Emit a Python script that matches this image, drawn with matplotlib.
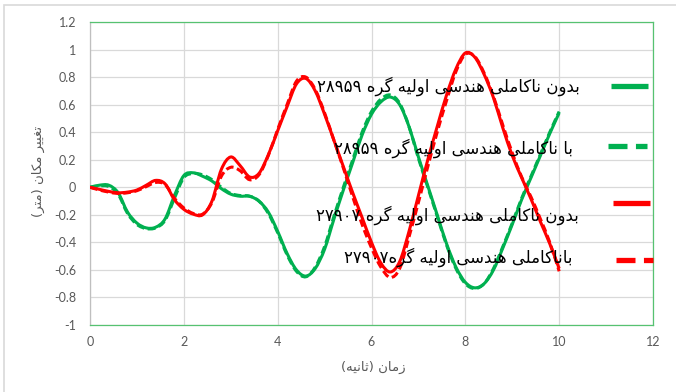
import re
import matplotlib
matplotlib.use('Agg')
import matplotlib.pyplot as plt
from matplotlib.lines import Line2D
from matplotlib.patches import Rectangle, PathPatch
from matplotlib.path import Path

# time axis (s)
t = [0.0, 0.2, 0.4, 0.6, 0.8, 1.0, 1.2, 1.4, 1.6, 1.8,
     2.0, 2.2, 2.4, 2.6, 2.8, 3.0, 3.2, 3.4, 3.6, 3.8,
     4.0, 4.2, 4.4, 4.6, 4.8, 5.0, 5.2, 5.4, 5.6, 5.8,
     6.0, 6.2, 6.4, 6.6, 6.8, 7.0, 7.2, 7.4, 7.6, 7.8,
     8.0, 8.2, 8.4, 8.6, 8.8, 9.0, 9.2, 9.4, 9.6, 9.8, 10.0]

# node 28959, perfect geometry
g_perfect = [0.0, 0.015, 0.015, -0.04, -0.18, -0.26, -0.295, -0.29, -0.23, -0.06,
             0.085, 0.105, 0.08, 0.045, -0.01, -0.05, -0.065, -0.065, -0.10, -0.18,
             -0.32, -0.48, -0.60, -0.645, -0.59, -0.45, -0.23, -0.02, 0.18, 0.38,
             0.53, 0.62, 0.655, 0.60, 0.44, 0.22, 0.01, -0.20, -0.41, -0.58,
             -0.69, -0.73, -0.70, -0.60, -0.44, -0.27, -0.09, 0.07, 0.23, 0.39, 0.54]
# node 28959, with initial imperfection
g_imperf = [0.0, 0.01, 0.005, -0.05, -0.19, -0.27, -0.30, -0.295, -0.24, -0.08,
            0.07, 0.10, 0.09, 0.055, 0.0, -0.045, -0.06, -0.065, -0.10, -0.19,
            -0.33, -0.49, -0.61, -0.65, -0.58, -0.43, -0.21, 0.0, 0.20, 0.40,
            0.55, 0.64, 0.67, 0.61, 0.44, 0.21, 0.0, -0.21, -0.42, -0.59,
            -0.70, -0.735, -0.70, -0.59, -0.43, -0.26, -0.08, 0.08, 0.24, 0.40, 0.55]
# node 27907, perfect geometry
r_perfect = [0.0, -0.015, -0.03, -0.04, -0.035, -0.02, 0.015, 0.05, 0.025, -0.09,
             -0.16, -0.195, -0.20, -0.10, 0.13, 0.22, 0.157, 0.075, 0.10, 0.235,
             0.41, 0.585, 0.75, 0.79, 0.70, 0.53, 0.34, 0.15, -0.04, -0.22,
             -0.40, -0.55, -0.615, -0.54, -0.32, -0.06, 0.20, 0.44, 0.67, 0.86,
             0.975, 0.945, 0.82, 0.65, 0.43, 0.23, 0.07, -0.085, -0.25, -0.41, -0.59]
# node 27907, with initial imperfection
r_imperf = [0.0, -0.02, -0.035, -0.045, -0.04, -0.025, 0.005, 0.035, 0.02, -0.08,
            -0.15, -0.19, -0.195, -0.11, 0.08, 0.145, 0.12, 0.055, 0.09, 0.23,
            0.42, 0.60, 0.77, 0.80, 0.71, 0.54, 0.34, 0.14, -0.07, -0.27,
            -0.44, -0.58, -0.655, -0.59, -0.36, -0.11, 0.15, 0.40, 0.63, 0.84,
            0.965, 0.95, 0.83, 0.66, 0.45, 0.25, 0.075, -0.07, -0.23, -0.40, -0.61]

labels = ['بدون ناکاملی هندسی اولیه گره ۲۸۹۵۹',
          'با ناکاملی هندسی اولیه گره ۲۸۹۵۹',
          'بدون ناکاملی هندسی اولیه گره ۲۷۹۰۷',
          'باناکاملی هندسی اولیه گره۲۷۹۰۷']
xlabel = 'زمان (ثانیه)'
ylabel = 'تغییر مکان (متر)'

GREEN = '#00B050'
RED = '#FF0000'

# contextual forms: isolated, final, initial, medial
FORMS = {
    'ا': ('\uFE8D', '\uFE8E', None, None),
    'ب': ('\uFE8F', '\uFE90', '\uFE91', '\uFE92'),
    'ت': ('\uFE95', '\uFE96', '\uFE97', '\uFE98'),
    'ث': ('\uFE99', '\uFE9A', '\uFE9B', '\uFE9C'),
    'د': ('\uFEA9', '\uFEAA', None, None),
    'ر': ('\uFEAD', '\uFEAE', None, None),
    'ز': ('\uFEAF', '\uFEB0', None, None),
    'س': ('\uFEB1', '\uFEB2', '\uFEB3', '\uFEB4'),
    'غ': ('\uFECD', '\uFECE', '\uFECF', '\uFED0'),
    'ل': ('\uFEDD', '\uFEDE', '\uFEDF', '\uFEE0'),
    'م': ('\uFEE1', '\uFEE2', '\uFEE3', '\uFEE4'),
    'ن': ('\uFEE5', '\uFEE6', '\uFEE7', '\uFEE8'),
    'ه': ('\uFEE9', '\uFEEA', '\uFEEB', '\uFEEC'),
    'و': ('\uFEED', '\uFEEE', None, None),
    'ک': ('\uFB8E', '\uFB8F', '\uFB90', '\uFB91'),
    'گ': ('\uFB92', '\uFB93', '\uFB94', '\uFB95'),
    'ی': ('\uFBFC', '\uFBFD', '\uFBFE', '\uFBFF'),
}


def shape(s):
    # pick joined letter forms, then lay the string out right to left
    out = []
    for i, c in enumerate(s):
        if c not in FORMS:
            out.append(c)
            continue
        iso, fin, ini, med = FORMS[c]
        prev = s[i - 1] if i > 0 else ''
        nxt = s[i + 1] if i + 1 < len(s) else ''
        jp = prev in FORMS and FORMS[prev][2] is not None
        jn = ini is not None and nxt in FORMS
        if jp and jn:
            out.append(med)
        elif jp:
            out.append(fin)
        elif jn:
            out.append(ini)
        else:
            out.append(iso)
    runs = re.findall(r'[0-9\u06F0-\u06F9]+|[^0-9\u06F0-\u06F9]', ''.join(out))
    runs.reverse()
    return ''.join(runs).translate(str.maketrans('()', ')('))


def smooth_line(ax, x, y, **kw):
    # smoothed line through the points (cubic Bezier segments)
    n = len(x)
    verts = [(x[0], y[0])]
    codes = [Path.MOVETO]
    for i in range(n - 1):
        a = max(i - 1, 0)
        b = min(i + 2, n - 1)
        c1 = (x[i] + (x[i + 1] - x[a]) / 6, y[i] + (y[i + 1] - y[a]) / 6)
        c2 = (x[i + 1] - (x[b] - x[i]) / 6, y[i + 1] - (y[b] - y[i]) / 6)
        verts += [c1, c2, (x[i + 1], y[i + 1])]
        codes += [Path.CURVE4] * 3
    ax.add_patch(PathPatch(Path(verts, codes), fill=False, **kw))


plt.rcParams['font.family'] = ['Lato', 'DejaVu Sans']

fig = plt.figure(figsize=(6.76, 3.92), dpi=100)
ax = fig.add_axes([90 / 676, 1 - 325 / 392, 563 / 676, 303 / 392])

lw = 2.2
dash = (0, (2.5, 1.2))
smooth_line(ax, t, g_perfect, edgecolor=GREEN, lw=lw, zorder=3)
smooth_line(ax, t, g_imperf, edgecolor=GREEN, lw=lw, ls=dash, zorder=3)
smooth_line(ax, t, r_perfect, edgecolor=RED, lw=lw, zorder=4)
smooth_line(ax, t, r_imperf, edgecolor=RED, lw=lw, ls=dash, zorder=4)

ax.set_xlim(0, 12)
ax.set_ylim(-1, 1.2)
ax.set_xticks(range(0, 13, 2))
yt = [round(-1 + 0.2 * i, 1) for i in range(12)]
ax.set_yticks(yt)
ax.set_yticklabels(['0' if v == 0 else ('%g' % v) for v in yt])
ax.grid(True, color='#d9d9d9', lw=0.9)
ax.set_axisbelow(True)
ax.tick_params(length=0, labelsize=9, labelcolor='#595959')
ax.tick_params(axis='x', pad=8)
ax.tick_params(axis='y', pad=10)
for side in ['top', 'right', 'bottom']:
    ax.spines[side].set_color('#56c271')
    ax.spines[side].set_linewidth(0.9)
ax.spines['left'].set_color('#bfbfbf')
ax.spines['left'].set_linewidth(0.9)

# legend: text on the left, line sample on the right
entries = [
    (580, 86, GREEN, '-', 611, 648, 86),
    (573, 148, GREEN, '--', 608, 647, 146),
    (579, 215, RED, '-', 613, 650, 203),
    (573, 257, RED, '--', 616, 653, 260),
]
for lab, (tx, ty, col, style, x0, x1, ly) in zip(labels, entries):
    fig.text(tx / 676, 1 - ty / 392, shape(lab), ha='right', va='center',
             fontsize=12, color='black', family='DejaVu Sans', zorder=6)
    ls = '-' if style == '-' else (0, (3.6, 1.6))
    fig.add_artist(Line2D([x0 / 676, x1 / 676], [1 - ly / 392, 1 - ly / 392],
                          transform=fig.transFigure, color=col, lw=3.8, ls=ls,
                          solid_capstyle='butt', dash_capstyle='butt'))

fig.text(373 / 676, 1 - 367 / 392, shape(xlabel), ha='center', va='center',
         fontsize=9.5, color='#595959', family='DejaVu Sans')
fig.text(38 / 676, 1 - 171 / 392, shape(ylabel), ha='center', va='center',
         rotation=90, fontsize=9.5, color='#595959', family='DejaVu Sans')

# chart area border
fig.add_artist(Rectangle((4 / 676, -0.1), 1.2, 1.1 - 4.5 / 392,
                         transform=fig.transFigure, fill=False,
                         edgecolor='#d9d9d9', lw=1.2))

fig.savefig('out.png', dpi=100)
